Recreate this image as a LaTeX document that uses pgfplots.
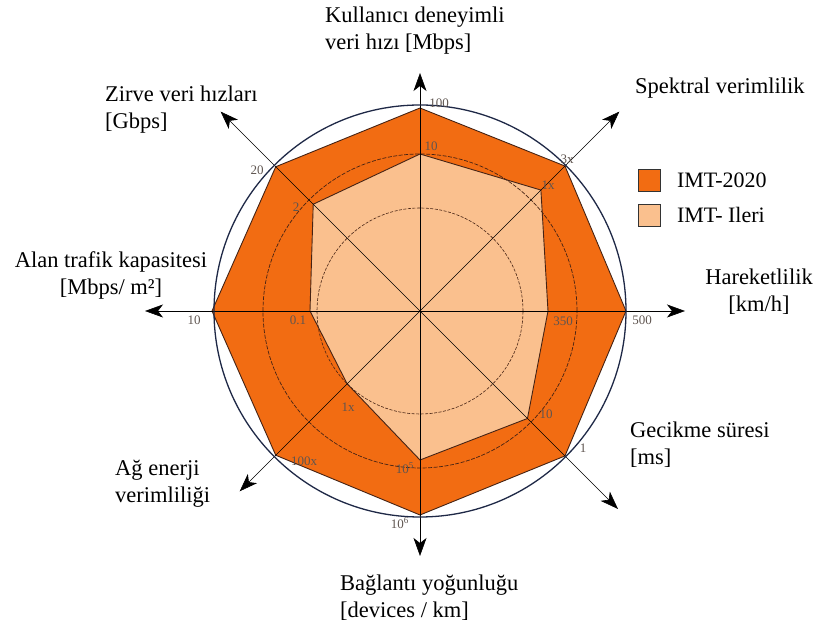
\documentclass[border=0pt]{standalone}
\usepackage{pgfplots}
\pgfplotsset{compat=1.18}
\usepackage{fontspec}
\setmainfont{Liberation Serif}
\usetikzlibrary{arrows.meta}
\definecolor{imtA}{RGB}{242,108,18}
\definecolor{imtB}{RGB}{250,192,142}
\definecolor{navy}{RGB}{30,40,70}
\definecolor{edge}{RGB}{70,35,20}
\definecolor{tick}{RGB}{95,85,80}
\begin{document}
\begin{tikzpicture}
\begin{axis}[
  x=1pt, y=1pt,
  xmin=-420, xmax=405, ymin=-320, ymax=311,
  hide axis, clip=false,
  legend style={at={(axis cs:215,144)}, anchor=north west, draw=none, fill=none,
    font=\fontsize{22}{22}\selectfont, row sep=12pt},
  legend cell align=left,
  legend image code/.code={\draw[#1,draw=black!80,line width=0.8pt] (0pt,-11pt) rectangle (22pt,11pt);},
]
\path (axis cs:-420,-320) rectangle (axis cs:405,311);
% IMT-2020
\addplot[fill=imtA, draw=edge, line width=0.9pt, data cs=polar] coordinates {
  (90,203) (45,205) (0,206) (-45,205) (-90,204) (-135,204) (180,208) (135,204)} -- cycle;
\addlegendentry{\hspace{14pt}IMT-2020}
% IMT-Ileri
\addplot[fill=imtB, draw=edge, line width=0.9pt, data cs=polar] coordinates {
  (90,157) (45,171) (0,128) (-45,152) (-90,149) (-135,103) (180,110) (135,151)} -- cycle;
\addlegendentry{\hspace{14pt}IMT- Ileri}
% reference circles
\draw[edge, line width=0.7pt, dash pattern=on 4pt off 1.5pt] (axis cs:0,0) circle[radius=157];
\draw[edge, line width=0.6pt, dash pattern=on 3pt off 1.5pt] (axis cs:0,0) circle[radius=103];
% axes with arrows
\addplot[black, line width=0.6pt, -{Stealth[length=18pt,width=13pt,inset=5pt]}, data cs=polar, forget plot] coordinates {(0,0) (90,238)};
\addplot[black, line width=0.6pt, -{Stealth[length=18pt,width=13pt,inset=5pt]}, data cs=polar, forget plot] coordinates {(0,0) (45,282)};
\addplot[black, line width=0.6pt, -{Stealth[length=18pt,width=13pt,inset=5pt]}, data cs=polar, forget plot] coordinates {(0,0) (0,265)};
\addplot[black, line width=0.6pt, -{Stealth[length=18pt,width=13pt,inset=5pt]}, data cs=polar, forget plot] coordinates {(0,0) (-45,280)};
\addplot[black, line width=0.6pt, -{Stealth[length=18pt,width=13pt,inset=5pt]}, data cs=polar, forget plot] coordinates {(0,0) (-90,245)};
\addplot[black, line width=0.6pt, -{Stealth[length=18pt,width=13pt,inset=5pt]}, data cs=polar, forget plot] coordinates {(0,0) (-135,255)};
\addplot[black, line width=0.6pt, -{Stealth[length=18pt,width=13pt,inset=5pt]}, data cs=polar, forget plot] coordinates {(0,0) (180,275)};
\addplot[black, line width=0.6pt, -{Stealth[length=18pt,width=13pt,inset=5pt]}, data cs=polar, forget plot] coordinates {(0,0) (135,282)};
% outer circle
\draw[navy, line width=1.3pt] (axis cs:0,0) circle[radius=206];
% tick labels
\begin{scope}[every node/.style={font=\fontsize{13}{13}\selectfont, text=tick, inner sep=0pt}]
\node at (axis cs:19,208) {100};
\node at (axis cs:11,165) {10};
\node at (axis cs:147,152) {3x};
\node at (axis cs:128,126) {1x};
\node at (axis cs:222,-9) {500};
\node at (axis cs:143,-10) {350};
\node at (axis cs:163,-137) {1};
\node at (axis cs:126,-103) {10};
\node at (axis cs:-20,-212) {10\textsuperscript{6}};
\node at (axis cs:-15,-157) {10\textsuperscript{5}};
\node at (axis cs:-116,-150) {100x};
\node at (axis cs:-72,-96) {1x};
\node at (axis cs:-226,-9) {10};
\node at (axis cs:-122,-9) {0.1};
\node at (axis cs:-163,141) {20};
\node at (axis cs:-124,104) {2};
\end{scope}
% axis titles
\begin{scope}[every node/.style={font=\fontsize{22.5}{27}\selectfont, inner sep=0pt}]
\node[anchor=west, align=left] at (axis cs:-95,280) {Kullanıcı deneyimli\\veri hızı [Mbps]};
\node[anchor=west, align=left] at (axis cs:-315,201) {Zirve veri hızları\\{}[Gbps]};
\node[anchor=west] at (axis cs:215,223) {Spektral verimlilik};
\node[align=center] at (axis cs:339,19) {Hareketlilik\\{}[km/h]};
\node[align=center] at (axis cs:-309,36) {Alan trafik kapasitesi\\{}[Mbps/ m²]};
\node[anchor=west, align=left] at (axis cs:210,-134) {Gecikme süresi\\{}[ms]};
\node[anchor=west, align=left] at (axis cs:-305,-173) {Ağ enerji\\verimliliği};
\node[anchor=west, align=left] at (axis cs:-80,-287) {Bağlantı yoğunluğu\\{}[devices / km]};
\end{scope}
\end{axis}
\end{tikzpicture}
\end{document}
